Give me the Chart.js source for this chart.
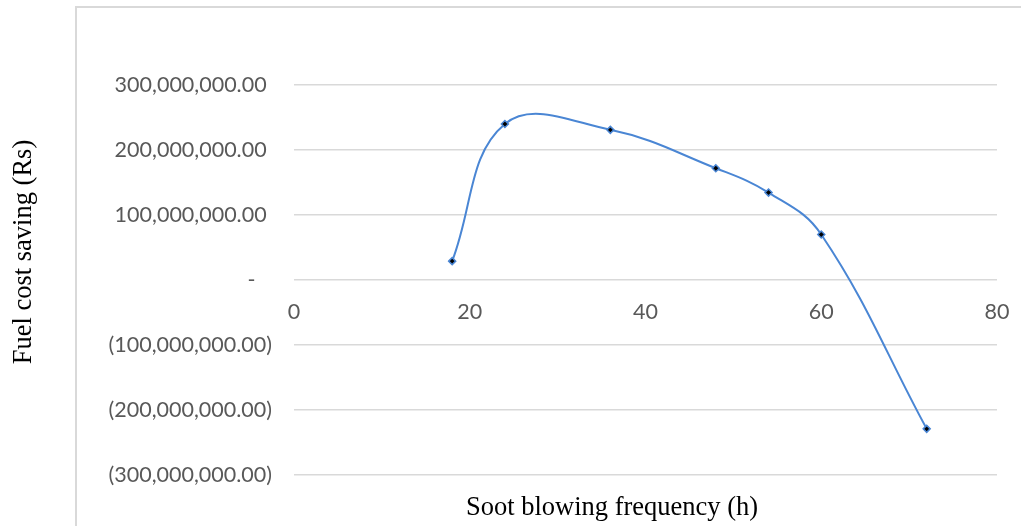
<!DOCTYPE html>
<html>
<head>
<meta charset="utf-8">
<script src="https://cdn.jsdelivr.net/npm/chart.js@4/dist/chart.umd.min.js"></script>
<style>
  html, body { margin: 0; padding: 0; background: #ffffff; }
  #wrap { width: 1021px; height: 526px; position: relative; }
</style>
</head>
<body>
<div id="wrap"><canvas id="c" width="1021" height="526"></canvas></div>
<script>
// Soot blowing frequency (hours) and the resulting fuel cost saving (Rs)
const frequencyHours = [18, 24, 36, 48, 54, 60, 72];
const fuelCostSaving = [29000000, 240000000, 231000000, 172000000, 134500000, 70000000, -229000000];

// Axis ranges and tick steps
const xTicks = { min: 0, max: 80, step: 20 };
const yTicks = { min: -300000000, max: 300000000, step: 100000000 };

const xTitle = 'Soot blowing frequency (h)';
const yTitle = 'Fuel cost saving (Rs)';

const tickFont = { family: 'Lato', size: 21.5 };
const titleFont = '26.5px "Liberation Serif", "Times New Roman", serif';
const tickColor = '#595959';
const gridColor = '#d9d9d9';
const lineColor = '#4a86d4';

// Accounting style: 1,234.00 / (1,234.00) / -
function accounting(v) {
  if (v === 0) return '-   ';
  const s = Math.abs(v).toLocaleString('en-US', { minimumFractionDigits: 2, maximumFractionDigits: 2 });
  return v < 0 ? '(' + s + ')' : s + '\u2005';
}

// Outer frame and free-standing axis titles
const decorations = {
  id: 'decorations',
  beforeDraw(chart) {
    const ctx = chart.ctx;
    ctx.save();
    ctx.strokeStyle = gridColor;
    ctx.lineWidth = 2;
    ctx.beginPath();
    ctx.moveTo(76, chart.height);
    ctx.lineTo(76, 7);
    ctx.lineTo(chart.width, 7);
    ctx.stroke();
    ctx.restore();
  },
  afterDraw(chart) {
    const ctx = chart.ctx;
    ctx.save();
    ctx.fillStyle = '#000000';
    ctx.font = titleFont;
    ctx.textAlign = 'center';
    ctx.textBaseline = 'alphabetic';
    ctx.fillText(xTitle, 612, 515);
    ctx.translate(31, 252);
    ctx.rotate(-Math.PI / 2);
    ctx.fillText(yTitle, 0, 0);
    ctx.restore();
  }
};

new Chart(document.getElementById('c'), {
  type: 'line',
  data: {
    datasets: [{
      data: frequencyHours.map((x, i) => ({ x: x, y: fuelCostSaving[i] })),
      borderColor: lineColor,
      borderWidth: 2,
      tension: 0.4,
      fill: false,
      pointStyle: 'rectRot',
      pointRadius: 3.5,
      pointBackgroundColor: '#000000',
      pointBorderColor: lineColor,
      pointBorderWidth: 1.5
    }]
  },
  options: {
    responsive: false,
    animation: false,
    events: [],
    layout: { padding: { left: 0, top: 85, right: 24, bottom: 51 } },
    plugins: { legend: { display: false }, tooltip: { enabled: false } },
    scales: {
      x: {
        type: 'linear',
        position: { y: 0 },
        min: xTicks.min,
        max: xTicks.max,
        afterFit(scale) { scale.paddingLeft = 0; scale.paddingRight = 0; },
        grid: { display: false, drawTicks: false },
        border: { display: false },
        ticks: { stepSize: xTicks.step, color: tickColor, font: tickFont, padding: 19, maxRotation: 0 }
      },
      y: {
        type: 'linear',
        position: 'left',
        min: yTicks.min,
        max: yTicks.max,
        afterFit(scale) { scale.width = 294; },
        grid: { color: gridColor, lineWidth: 1.5, drawTicks: false },
        border: { display: false },
        ticks: { stepSize: yTicks.step, color: tickColor, font: tickFont, padding: 22, callback: accounting }
      }
    }
  },
  plugins: [decorations]
});
</script>
</body>
</html>
